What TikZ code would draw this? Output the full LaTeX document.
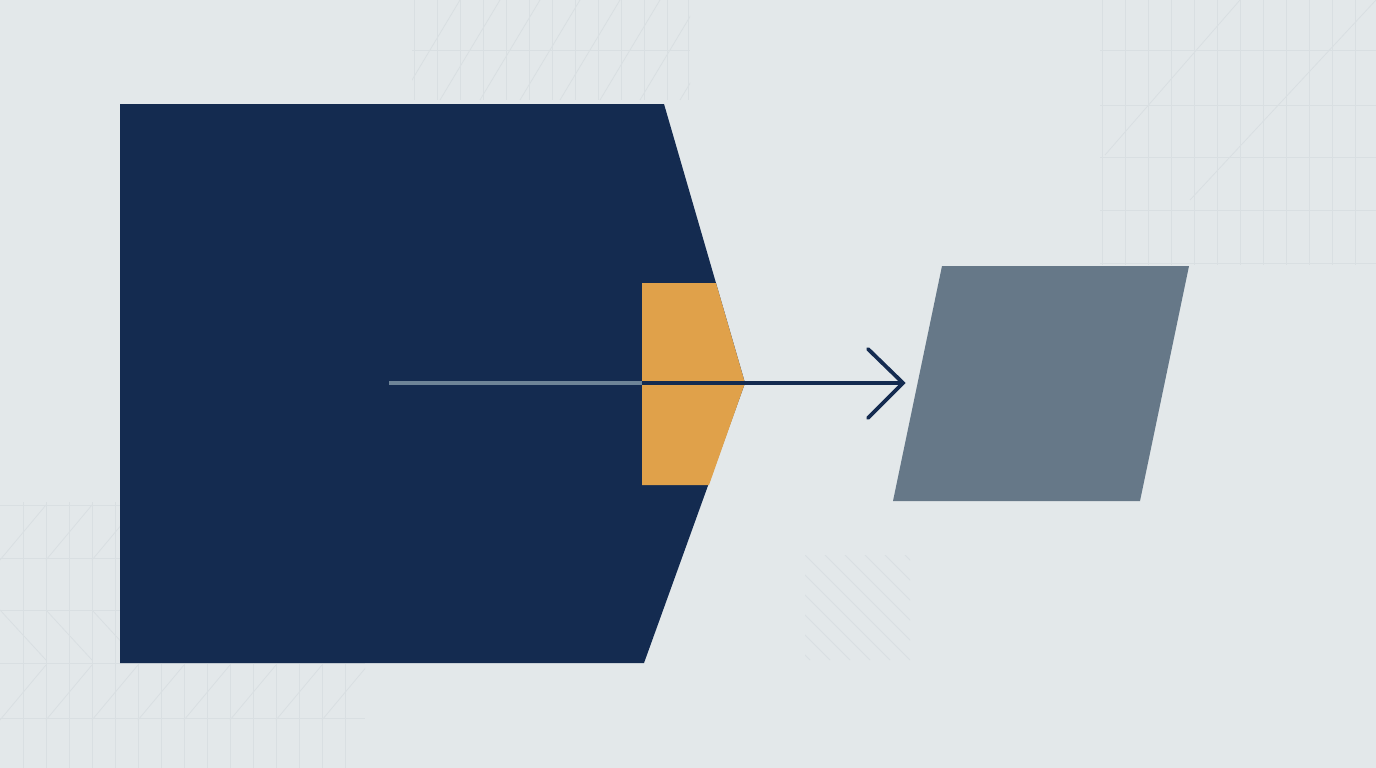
\documentclass[tikz,border=0pt]{standalone}
\definecolor{bg}{HTML}{E3E8EA}
\definecolor{navy}{HTML}{142B50}
\definecolor{amber}{HTML}{E0A14A}
\definecolor{slate}{HTML}{667888}
\definecolor{steel}{HTML}{6E8497}
\definecolor{gridc}{HTML}{D9DFE2}
\tikzset{
  gridline/.style={draw=gridc, line width=0.8pt},
  shaft/.style={line width=3.2pt},
}
\begin{document}
\begin{tikzpicture}[x=1pt,y=-1pt]
\fill[bg] (0,0) rectangle (1376,768);
\useasboundingbox (0,0) rectangle (1376,768);
% faint grid patches
\begin{scope}
\clip (412,0) rectangle (690,100);
\foreach \x in {414,437,460,483,506,529,552,575,598,621,644,667,688} \draw[gridline] (\x,0) -- (\x,100);
\draw[gridline] (412,50) -- (690,50);
\foreach \x in {400,440,480,520,560,600,640,680} \draw[gridline] (\x,100) -- (\x+60,0);
\end{scope}
\begin{scope}
\clip (1100,0) rectangle (1376,265);
\foreach \x in {1102,1125,1148,1171,1194,1217,1240,1263,1286,1309,1332,1355} \draw[gridline] (\x,0) -- (\x,265);
\foreach \y in {50,105,157,210,263} \draw[gridline] (1100,\y) -- (1376,\y);
\draw[gridline] (1105,155) -- (1240,0);
\draw[gridline] (1190,200) -- (1376,0);
\end{scope}
\begin{scope}
\clip (0,502) rectangle (365,768);
\foreach \x in {23,46,69,92,115,138,161,184,207,230,253,276,299,322,345} \draw[gridline] (\x,502) -- (\x,768);
\foreach \y in {505,558,610,663,718} \draw[gridline] (0,\y) -- (365,\y);
\foreach \x in {0,46,92,138,184,230,276,322} {
  \draw[gridline] (\x,560) -- (\x+46,505);
  \draw[gridline] (\x,720) -- (\x+46,665);
  \draw[gridline] (\x,610) -- (\x+46,660);
}
\end{scope}
\begin{scope}
\clip (805,555) rectangle (910,660);
\foreach \d in {-100,-80,...,100} \draw[gridline] (805+\d,555) -- (910+\d,660);
\end{scope}
% navy block
\coordinate (n1) at (120,104);
\coordinate (n2) at (664,104);
\coordinate (apex) at (745,383);
\coordinate (n4) at (644,663);
\coordinate (n5) at (120,663);
\fill[navy] (n1) -- (n2) -- (apex) -- (n4) -- (n5) -- cycle;
% amber tab
\coordinate (o1) at (642,283);
\coordinate (o2) at (716,283);
\coordinate (o4) at (709,485);
\coordinate (o5) at (642,485);
\fill[amber] (o1) -- (o2) -- (apex) -- (o4) -- (o5) -- cycle;
% slate parallelogram
\coordinate (p1) at (942,266);
\coordinate (p2) at (1189,266);
\coordinate (p3) at (1140,501);
\coordinate (p4) at (893,501);
\fill[slate] (p1) -- (p2) -- (p3) -- (p4) -- cycle;
% arrow
\coordinate (start) at (389,383);
\coordinate (mid) at (642,383);
\coordinate (tip) at (903,383);
\coordinate (armA) at (868,349);
\coordinate (armB) at (868,418);
\draw[shaft, steel] (start) -- (mid);
\draw[shaft, navy] (mid) -- (tip);
\draw[navy, line width=3.8pt, line cap=round, line join=miter] (armA) -- (tip) -- (armB);
\end{tikzpicture}
\end{document}
